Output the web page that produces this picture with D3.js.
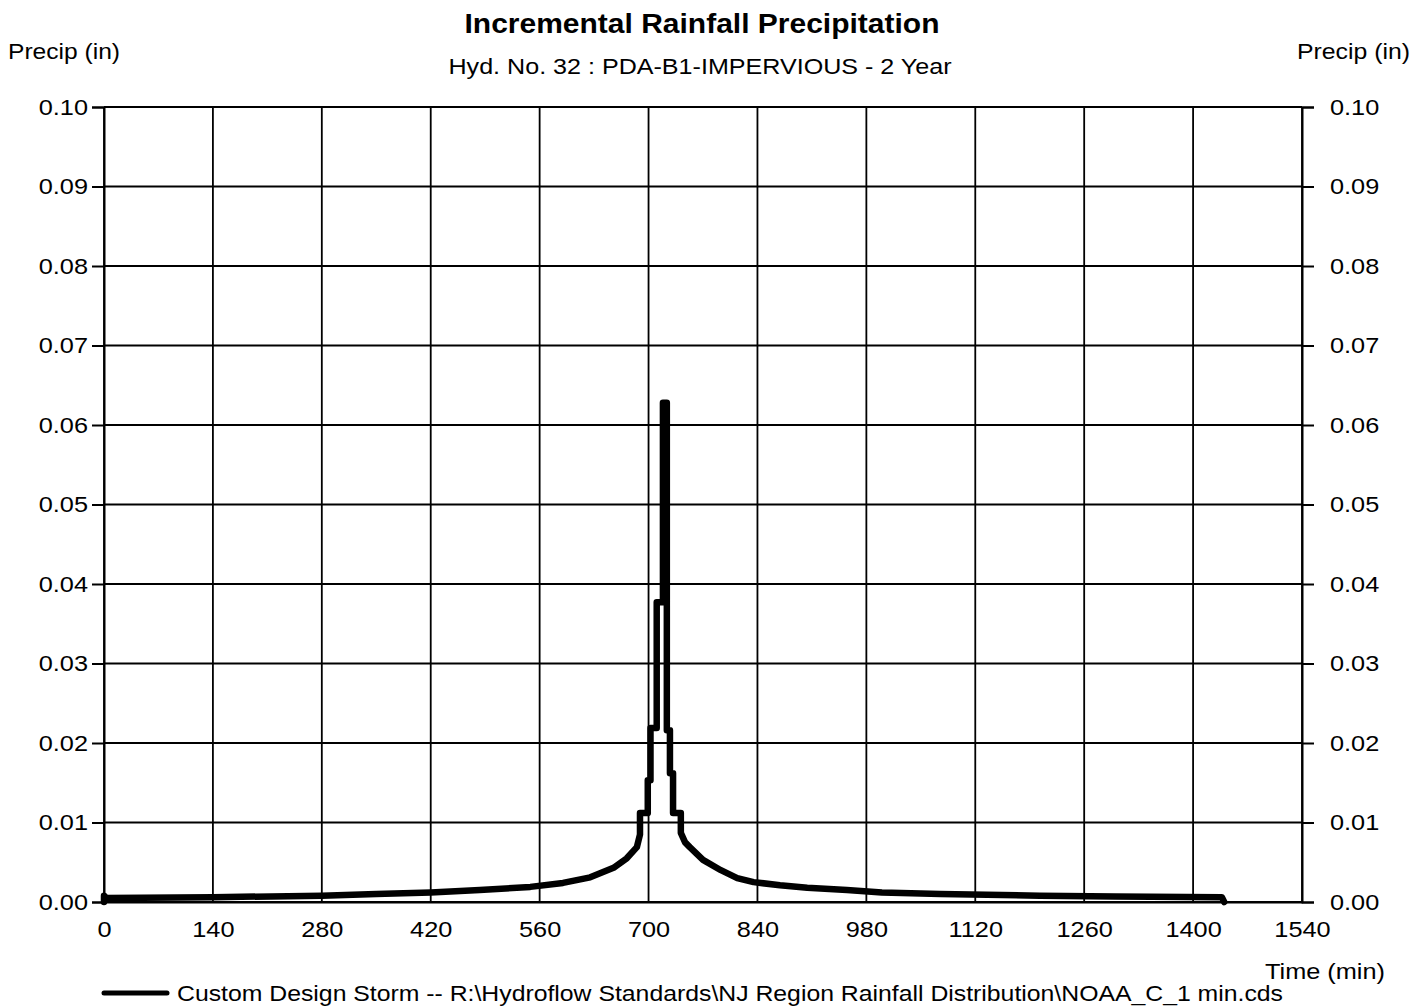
<!DOCTYPE html>
<html>
<head>
<meta charset="utf-8">
<script src="https://cdn.jsdelivr.net/npm/d3@7"></script>
<style>
  html, body { margin: 0; padding: 0; background: #fff; }
  svg { display: block; font-family: "Liberation Sans", Arial, sans-serif; }
</style>
</head>
<body>
<svg id="chart" width="1428" height="1006"></svg>
<script>
// ---- Data ----
const title = "Incremental Rainfall Precipitation";
const subtitle = "Hyd. No. 32 : PDA-B1-IMPERVIOUS - 2 Year";
const yAxisLabel = "Precip (in)";
const xAxisLabel = "Time (min)";
const legendLabel = "Custom Design Storm -- R:\\Hydroflow Standards\\NJ Region Rainfall Distribution\\NOAA_C_1 min.cds";

const xTicks = [0, 140, 280, 420, 560, 700, 840, 980, 1120, 1260, 1400, 1540];
const yTicks = [0.00, 0.01, 0.02, 0.03, 0.04, 0.05, 0.06, 0.07, 0.08, 0.09, 0.10];

// hyetograph vertices: time (min) and incremental precipitation (in)
const timeMin = [0, 0, 3, 140, 280, 350, 420, 483, 548, 590, 625, 655, 672, 685, 689,
  689, 699, 699, 702.5, 702.5, 710.5, 710.5, 718.5, 718.5, 723.5,
  723.5, 727.5, 727.5, 731.5, 731.5, 741.5, 741.5,
  747, 753, 770, 793, 814, 835, 869, 904, 955, 1000, 1075, 1203, 1300, 1437, 1440];
const precipIn = [0, 0.0008, 0.0005, 0.0006, 0.0008, 0.0010, 0.0012, 0.0015, 0.0019, 0.0024, 0.0031, 0.0043, 0.0055, 0.0069, 0.0085,
  0.0112, 0.0112, 0.0153, 0.0153, 0.0219, 0.0219, 0.0377, 0.0377, 0.0628, 0.0628,
  0.0216, 0.0216, 0.0162, 0.0162, 0.0112, 0.0112, 0.0087,
  0.0075, 0.0069, 0.0053, 0.0040, 0.0030, 0.0025, 0.0021, 0.0018, 0.0015, 0.0012, 0.0010, 0.0008, 0.0007, 0.0006, 0];

// ---- Layout ----
const svg = d3.select("#chart");
const L = 104, R = 1302, T = 107, B = 902;
const x = d3.scaleLinear().domain([0, 1540]).range([L, R]);
const y = d3.scaleLinear().domain([0, 0.10]).range([B, T]);
const FONT = "'Liberation Sans', Arial, sans-serif";

// horizontally widen text (reference text is wider than Arial at its height)
function widen(sel, factor) {
  sel.each(function () {
    const w = this.getComputedTextLength();
    d3.select(this).attr("textLength", w * factor).attr("lengthAdjust", "spacingAndGlyphs");
  });
}

// gridlines
const grid = svg.append("g");
grid.selectAll("line.h").data(yTicks).join("line")
  .attr("x1", L).attr("x2", R)
  .attr("y1", d => y(d)).attr("y2", d => y(d))
  .attr("stroke", "#000").attr("stroke-width", 1.8);
grid.selectAll("line.v").data(xTicks).join("line")
  .attr("y1", T).attr("y2", B)
  .attr("x1", d => x(d)).attr("x2", d => x(d))
  .attr("stroke", "#000").attr("stroke-width", 1.8);

// axes
const fmt = d3.format(".2f");
const yLeft = svg.append("g").attr("transform", `translate(${L},0)`)
  .call(d3.axisLeft(y).tickValues(yTicks).tickFormat(fmt).tickSize(12).tickPadding(4));
const yRight = svg.append("g").attr("transform", `translate(${R},0)`)
  .call(d3.axisRight(y).tickValues(yTicks).tickFormat(fmt).tickSize(12).tickPadding(16));
const xBottom = svg.append("g").attr("transform", `translate(0,${B})`)
  .call(d3.axisBottom(x).tickValues(xTicks).tickFormat(d3.format("d")).tickSize(0).tickPadding(19));
[yLeft, yRight, xBottom].forEach(g => {
  g.selectAll("path.domain").attr("stroke", "#000").attr("stroke-width", 2);
  g.selectAll(".tick line").attr("stroke", "#000").attr("stroke-width", 2);
  g.selectAll("text").attr("fill", "#000").style("font-size", "22px").style("font-family", FONT)
    .call(widen, 1.15);
});

// data line
const pts = timeMin.map((t, i) => [t, precipIn[i]]);
const line = d3.line().x(d => x(d[0])).y(d => y(d[1])).curve(d3.curveLinear);
svg.append("path").datum(pts)
  .attr("d", line)
  .attr("fill", "none").attr("stroke", "#000").attr("stroke-width", 6.5)
  .attr("stroke-linejoin", "round").attr("stroke-linecap", "round");

// texts
svg.append("text").attr("x", 702).attr("y", 33).attr("text-anchor", "middle")
  .style("font-size", "27px").style("font-weight", "bold")
  .attr("textLength", 475).attr("lengthAdjust", "spacingAndGlyphs").text(title);
svg.append("text").attr("x", 700).attr("y", 74).attr("text-anchor", "middle")
  .style("font-size", "22px")
  .attr("textLength", 503).attr("lengthAdjust", "spacingAndGlyphs").text(subtitle);
svg.append("text").attr("x", 8).attr("y", 59).style("font-size", "22px")
  .attr("textLength", 112).attr("lengthAdjust", "spacingAndGlyphs").text(yAxisLabel);
svg.append("text").attr("x", 1410).attr("y", 59).attr("text-anchor", "end").style("font-size", "22px")
  .attr("textLength", 113).attr("lengthAdjust", "spacingAndGlyphs").text(yAxisLabel);
svg.append("text").attr("x", 1385).attr("y", 979).attr("text-anchor", "end").style("font-size", "22px")
  .attr("textLength", 120).attr("lengthAdjust", "spacingAndGlyphs").text(xAxisLabel);

// legend
svg.append("line").attr("x1", 104).attr("x2", 167).attr("y1", 993).attr("y2", 993)
  .attr("stroke", "#000").attr("stroke-width", 5).attr("stroke-linecap", "round");
svg.append("text").attr("x", 177).attr("y", 1001).style("font-size", "22px")
  .attr("textLength", 1106).attr("lengthAdjust", "spacingAndGlyphs").text(legendLabel);
</script>
</body>
</html>
